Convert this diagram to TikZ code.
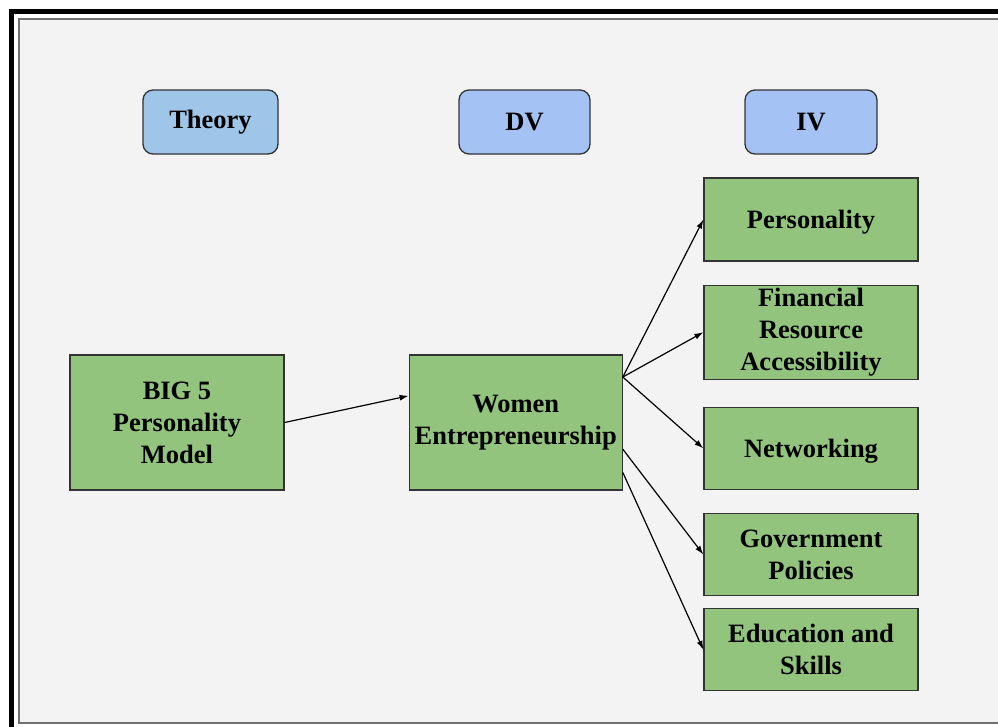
\documentclass[tikz,border=0pt]{standalone}
\usepackage{fontspec}
\setmainfont{Liberation Serif}
\usetikzlibrary{shapes,positioning,arrows.meta}

\definecolor{boxgreen}{HTML}{93C47D}
\definecolor{theoryblue}{HTML}{9FC5E8}
\definecolor{varblue}{HTML}{A4C2F4}
\definecolor{panelgray}{HTML}{F3F3F3}
\definecolor{edgegray}{HTML}{707070}

\tikzset{
    greenbox/.style={draw=black!80, fill=boxgreen, line width=1.2pt,
        align=center, inner sep=2pt,
        font=\fontsize{26.5}{32}\selectfont\bfseries,
        execute at begin node={\rule{0pt}{24pt}}},
    headbox/.style={draw=black!80, line width=1.3pt, rounded corners=10pt,
        minimum height=64pt, align=center,
        font=\fontsize{26.5}{32}\selectfont\bfseries},
    link/.style={-{Latex[length=9pt,width=6pt]}, line width=1.2pt}
}

\begin{document}
\begin{tikzpicture}[x=1pt,y=-1pt]

% Page and frame
\fill[white] (0,0) rectangle (998,726);
\useasboundingbox (0,0) rectangle (998,726);
\clip (0,0) rectangle (998,726);
\draw[edgegray, fill=panelgray, line width=2pt] (19,19) rectangle (1010,723);
\draw[black, line width=5pt] (11.5,11.5) rectangle (1015,745);

% Headings
\node[headbox, fill=theoryblue, minimum width=135pt] (theory) at (210.5,122) {Theory};
\node[headbox, fill=varblue, minimum width=131pt] (dv) at (524.5,122) {DV};
\node[headbox, fill=varblue, minimum width=132pt] (iv) at (811,122) {IV};

% Theory block
\node[greenbox,
    minimum width=214pt,
    minimum height=135pt] (big5) at (177,422.5) {BIG 5\\Personality\\Model};

% DV block
\node[greenbox,
    execute at begin node={},
    right=124pt of big5,
    minimum width=213pt,
    minimum height=135pt] (women) {Women\\Entrepreneurship};

% IV blocks
\node[greenbox,
    minimum width=214pt,
    minimum height=83pt] (personality) at (811,219.5) {Personality};

\node[greenbox,
    below=23pt of personality,
    minimum width=214pt,
    minimum height=94pt] (finance) {Financial\\Resource\\Accessibility};

\node[greenbox,
    below=27pt of finance,
    minimum width=214pt,
    minimum height=82pt] (network) {Networking};

\node[greenbox,
    below=23pt of network,
    minimum width=214pt,
    minimum height=82pt] (govt) {Government\\Policies};

\node[greenbox,
    below=12pt of govt,
    minimum width=214pt,
    minimum height=82pt] (edu) {Education and\\Skills};

% Arrows
\draw[link] (big5.east) -- (women.166);
\draw[link] (women.23) -- (personality.west);
\draw[link] (women.23) -- (finance.west);
\draw[link] (women.23) -- (network.west);
\draw[link] (women.-14) -- (govt.west);
\draw[link] (women.-25) -- (edu.west);

\end{tikzpicture}
\end{document}
